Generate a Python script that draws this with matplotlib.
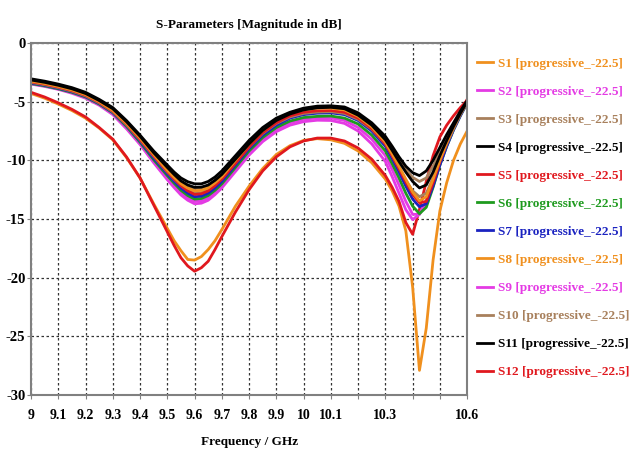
import matplotlib
matplotlib.use("Agg")
import matplotlib.pyplot as plt

plt.rcParams["font.family"] = "Liberation Serif"
plt.rcParams["font.weight"] = "bold"

# S-parameter curves (dB)
freq = [9.0, 9.05, 9.1, 9.15, 9.2, 9.25, 9.3, 9.35, 9.4, 9.45, 9.5, 9.525, 9.55, 9.575,
        9.6, 9.625, 9.65, 9.675, 9.7, 9.75, 9.8, 9.85, 9.9, 9.95, 10.0, 10.05, 10.1,
        10.15, 10.2, 10.25, 10.3, 10.325, 10.35, 10.375, 10.4, 10.425, 10.45, 10.475,
        10.5, 10.525, 10.55, 10.575, 10.6]

s1 = [-4.3, -4.7, -5.2, -5.75, -6.4, -7.25, -8.25, -9.75, -11.5, -13.7, -15.8, -16.85, -17.7, -18.45,
      -18.5, -18.2, -17.6, -16.85, -15.9, -13.9, -12.2, -10.7, -9.5, -8.75, -8.3, -8.15, -8.25,
      -8.55, -9.2, -10.2, -11.6, -12.6, -13.9, -16.0, -20.8, -27.9, -24.3, -18.5,
      -14.3, -11.9, -10.0, -8.6, -7.5]
s2 = [-3.45, -3.65, -3.9, -4.22, -4.62, -5.25, -6.0, -7.2, -8.55, -10.05, -11.5, -12.15, -12.75, -13.2,
      -13.5, -13.45, -13.2, -12.72, -12.15, -10.75, -9.35, -8.2, -7.35, -6.8, -6.5, -6.38, -6.38,
      -6.6, -7.2, -8.2, -9.6, -10.8, -12.1, -13.5, -14.6, -14.6, -13.6, -11.8,
      -10.0, -8.5, -7.2, -6.1, -5.0]
s3 = [-3.3, -3.5, -3.72, -4.02, -4.4, -5.0, -5.7, -6.8, -8.05, -9.45, -10.75, -11.33, -11.85, -12.2,
      -12.4, -12.35, -12.15, -11.72, -11.2, -9.85, -8.5, -7.35, -6.5, -5.95, -5.62, -5.48, -5.45,
      -5.55, -6.05, -6.9, -8.1, -9.0, -9.95, -10.8, -11.45, -11.8, -11.5, -10.5,
      -9.3, -8.1, -7.0, -5.95, -5.0]
s4 = [-3.05, -3.25, -3.5, -3.8, -4.2, -4.8, -5.5, -6.6, -7.85, -9.2, -10.4, -11.0, -11.5, -11.82,
      -12.0, -12.0, -11.8, -11.42, -10.9, -9.6, -8.3, -7.2, -6.4, -5.9, -5.55, -5.38, -5.35,
      -5.45, -5.95, -6.8, -7.95, -8.8, -9.7, -10.5, -11.05, -11.3, -10.9, -10.0,
      -8.9, -7.8, -6.8, -5.8, -4.9]
s5 = [-4.2, -4.6, -5.1, -5.65, -6.3, -7.2, -8.2, -9.7, -11.5, -13.8, -16.1, -17.25, -18.3, -19.0,
      -19.45, -19.15, -18.6, -17.6, -16.5, -14.4, -12.5, -10.9, -9.7, -8.85, -8.35, -8.1, -8.1,
      -8.35, -8.95, -9.9, -11.3, -12.3, -13.5, -15.3, -16.3, -14.2, -11.8, -9.6,
      -8.0, -7.0, -6.2, -5.5, -4.9]
s6 = [-3.45, -3.65, -3.9, -4.2, -4.6, -5.2, -5.95, -7.1, -8.45, -9.95, -11.3, -11.95, -12.55, -13.0,
      -13.3, -13.25, -13.0, -12.55, -12.0, -10.6, -9.2, -8.05, -7.2, -6.65, -6.35, -6.25, -6.22,
      -6.4, -6.9, -7.85, -9.2, -10.3, -11.5, -12.8, -13.9, -14.55, -14.0, -12.3,
      -10.4, -8.8, -7.4, -6.2, -5.1]
s7 = [-3.4, -3.6, -3.85, -4.15, -4.55, -5.15, -5.9, -7.0, -8.35, -9.8, -11.15, -11.78, -12.35, -12.8,
      -13.1, -13.05, -12.8, -12.35, -11.8, -10.4, -9.0, -7.85, -7.0, -6.4, -6.1, -5.98, -5.95,
      -6.1, -6.6, -7.5, -8.8, -9.85, -11.0, -12.2, -13.3, -13.95, -13.7, -12.2,
      -10.4, -8.8, -7.4, -6.2, -5.1]
s8 = [-3.25, -3.45, -3.7, -4.0, -4.4, -5.0, -5.75, -6.85, -8.1, -9.5, -10.85, -11.45, -12.0, -12.37,
      -12.6, -12.55, -12.35, -11.92, -11.4, -10.0, -8.6, -7.45, -6.55, -6.0, -5.68, -5.55, -5.55,
      -5.7, -6.25, -7.15, -8.45, -9.45, -10.5, -11.6, -12.7, -13.45, -13.1, -11.6,
      -10.0, -8.5, -7.2, -6.0, -5.0]
s9 = [-3.5, -3.7, -3.95, -4.28, -4.7, -5.3, -6.1, -7.3, -8.65, -10.2, -11.65, -12.32, -12.95, -13.4,
      -13.7, -13.65, -13.4, -12.92, -12.35, -10.95, -9.55, -8.4, -7.55, -7.0, -6.7, -6.58, -6.6,
      -6.85, -7.5, -8.6, -10.1, -11.4, -12.8, -14.2, -15.05, -14.6, -13.4, -11.6,
      -9.9, -8.4, -7.1, -6.0, -5.0]
s10 = [-3.35, -3.55, -3.8, -4.1, -4.5, -5.1, -5.85, -6.95, -8.25, -9.65, -11.0, -11.6, -12.15, -12.55,
       -12.8, -12.75, -12.5, -12.06, -11.55, -10.2, -8.85, -7.7, -6.85, -6.3, -6.0, -5.88, -5.85,
       -6.0, -6.5, -7.35, -8.6, -9.6, -10.65, -11.7, -12.6, -13.1, -12.8, -11.5,
       -10.0, -8.6, -7.3, -6.1, -5.1]
s11 = [-3.15, -3.35, -3.6, -3.9, -4.3, -4.9, -5.6, -6.7, -7.95, -9.35, -10.6, -11.2, -11.75, -12.1,
       -12.3, -12.28, -12.1, -11.7, -11.2, -9.9, -8.6, -7.45, -6.6, -6.05, -5.7, -5.52, -5.48,
       -5.6, -6.15, -7.0, -8.25, -9.15, -10.1, -11.0, -11.8, -12.35, -12.1, -11.0,
       -9.6, -8.3, -7.1, -6.0, -5.0]
s12 = [-3.3, -3.5, -3.75, -4.05, -4.45, -5.05, -5.8, -6.9, -8.2, -9.6, -10.95, -11.57, -12.15, -12.6,
       -12.9, -12.85, -12.6, -12.15, -11.6, -10.25, -8.85, -7.65, -6.8, -6.2, -5.9, -5.78, -5.75,
       -5.9, -6.4, -7.3, -8.6, -9.6, -10.7, -11.85, -12.9, -13.6, -13.5, -11.9,
       -10.1, -8.5, -7.1, -5.9, -4.8]

series = [s1, s2, s3, s4, s5, s6, s7, s8, s9, s10, s11, s12]
names = ["S%d [progressive_-22.5]" % (i + 1) for i in range(12)]
colors = ["#F0901E", "#E43BE4", "#A8805C", "#000000", "#E0181E", "#1E9A1E",
          "#1A22C0", "#F0901E", "#E43BE4", "#A8805C", "#000000", "#E0181E"]

xticks = [9.0, 9.1, 9.2, 9.3, 9.4, 9.5, 9.6, 9.7, 9.8, 9.9, 10.0, 10.1, 10.2, 10.3,
          10.4, 10.5, 10.6]
xlabels = ["9", "9.1", "9.2", "9.3", "9.4", "9.5", "9.6", "9.7", "9.8", "9.9", "10",
           "10.1", "", "10.3", "", "", "10.6"]
yticks = [0, -5, -10, -15, -20, -25, -30]

fig = plt.figure(figsize=(6.33, 4.53), dpi=100)
ax = fig.add_axes([0.049, 0.128, 0.689, 0.777])

# bottom pair drawn first so the upper group sits on top like the original
order = [0, 4, 8, 1, 5, 6, 9, 2, 11, 7, 10, 3]
lines = {}
for i in order:
    ln, = ax.plot(freq, series[i], color=colors[i], lw=2, label=names[i])
    lines[i] = ln

ax.set_xlim(9, 10.6)
ax.set_ylim(-30, 0)
ax.set_xticks(xticks)
ax.set_xticklabels(xlabels)
ax.set_yticks(yticks)
ax.set_yticklabels(["0", "-5", "-10", "-15", "-20", "-25", "-30"])
ax.tick_params(axis="x", labelsize=10, length=3, color="#808080", pad=7)
ax.tick_params(axis="y", labelsize=10.5, length=3, color="#808080", pad=1)
ax.grid(True, color="#333333", linestyle=(0, (2, 2)), linewidth=0.9)
for sp in ax.spines.values():
    sp.set_color("#808080")
    sp.set_linewidth(1.5)

ax.set_title("S-Parameters [Magnitude in dB]", fontsize=9.5, fontweight="bold", pad=11)
ax.set_xlabel("Frequency / GHz", fontsize=9.5, fontweight="bold", labelpad=10)

handles = [lines[i] for i in range(12)]
leg = fig.legend(handles, names, loc="upper left", bbox_to_anchor=(0.745, 0.885),
                 frameon=False, fontsize=9.5, handlelength=1.2, handletextpad=0.4,
                 labelspacing=1.2, borderaxespad=0)
for txt, ln in zip(leg.get_texts(), leg.get_lines()):
    txt.set_color(ln.get_color())

fig.savefig("out.png", dpi=100)
